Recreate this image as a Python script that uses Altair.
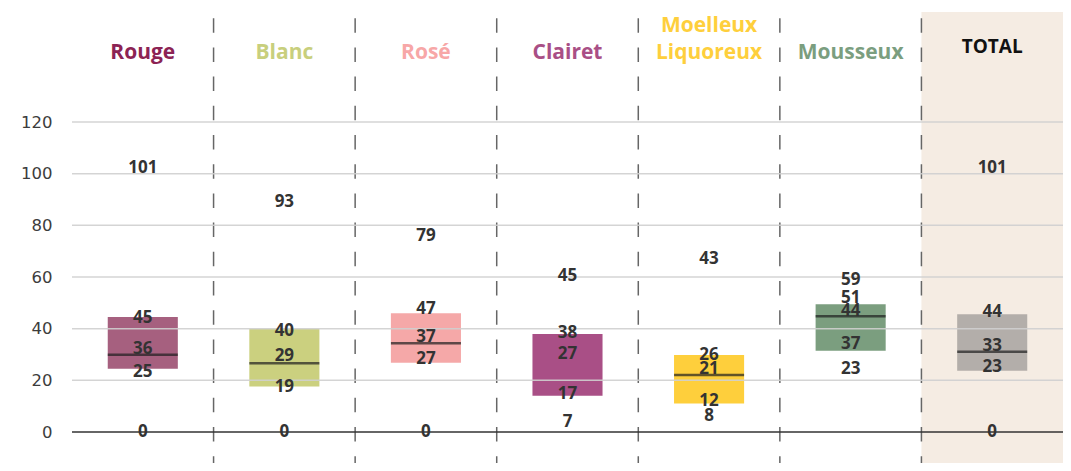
import altair as alt
import pandas as pd

# ---- data ----
categories = ["Rouge", "Blanc", "Rosé", "Clairet", "Moelleux", "Mousseux", "TOTAL"]
headers = ["Rouge", "Blanc", "Rosé", "Clairet", "Liquoreux", "Mousseux", "TOTAL"]
headers_top = ["", "", "", "", "Moelleux", "", ""]

box_low = [24.5, 17.6, 26.8, 14.0, 11.0, 31.5, 23.7]
box_high = [44.5, 40.0, 46.0, 37.9, 29.8, 49.5, 45.6]
mid_line = [29.9, 26.6, 34.4, None, 22.1, 44.8, 31.1]

# displayed numbers
v_max = [101, 93, 79, 45, 43, 59, 101]
v_q3 = [45, 40, 47, 38, 26, 51, 44]
v_med = [36, 29, 37, 27, 21, 44, 33]
v_q1 = [25, 19, 27, 17, 12, 37, 23]
v_min = [0, 0, 0, 7, 8, 23, 0]

# heights (axis units) where each number sits in the picture
at_max = [102.2, 89.1, 75.9, 60.4, 66.8, 59.0, 102.2]
at_q3 = [44.1, 39.2, 47.5, 38.3, 29.8, 52.0, 46.4]
at_med = [32.0, 29.4, 36.8, 30.2, 24.4, 46.7, 33.3]
at_q1 = [23.3, 17.5, 28.4, 14.7, 12.1, 34.0, 25.0]
at_min = [0.0, 0.0, 0.0, 3.9, 6.2, 24.2, 0.0]

y_ticks = [0, 20, 40, 60, 80, 100, 120]
Y_TOP, Y_BOTTOM = 162.6, -12.0
HEADER_AT, HEADER_TOP_AT, TOTAL_HEADER_AT = 142.8, 153.3, 146.7

box_colors = ["#a6607f", "#cbd07f", "#f5a8a8", "#a94f86", "#fecf3c", "#7b9e7f", "#b3aeaa"]
header_colors = ["#8c2354", "#c8cf7d", "#f7a7a7", "#a94f86", "#fecf3c", "#7b9e7f", "#111111"]

# ---- tables ----
boxes = pd.DataFrame({"cat": categories, "low": box_low, "high": box_high,
                      "mid": mid_line, "header": headers, "header_top": headers_top})
rows = []
for vals, ats in [(v_max, at_max), (v_q3, at_q3), (v_med, at_med), (v_q1, at_q1), (v_min, at_min)]:
    for c, v, a in zip(categories, vals, ats):
        rows.append({"cat": c, "val": v, "at": a})
labels = pd.DataFrame(rows)
grid = pd.DataFrame({"tick": y_ticks[1:]})

xs = alt.Scale(domain=categories, paddingInner=0, paddingOuter=0)
ys = alt.Scale(domain=[Y_BOTTOM, Y_TOP], nice=False, zero=False)
X = alt.X("cat:N", scale=xs, axis=None)


def header_color():
    return alt.Color("cat:N", scale=alt.Scale(domain=categories, range=header_colors), legend=None)


base = alt.Chart(boxes)

background = base.transform_filter(alt.datum.cat == "TOTAL").mark_bar(
    color="#f5ece3"
).encode(x=X, y=alt.datum(Y_TOP, scale=ys), y2=alt.datum(Y_BOTTOM))

separators = base.transform_filter(alt.datum.cat != "Rouge").mark_rule(
    color="#666666", strokeWidth=1.5, strokeDash=[14.5, 14.7], strokeDashOffset=23
).encode(
    x=alt.X("cat:N", scale=xs, axis=None, bandPosition=0),
    y=alt.datum(Y_TOP), y2=alt.datum(Y_BOTTOM),
)

bars = base.mark_bar(width=alt.RelativeBandSize(0.495)).encode(
    x=X,
    y=alt.Y("low:Q", scale=ys, title=None,
            axis=alt.Axis(values=y_ticks, grid=False,
                          domain=False, ticks=False, labelPadding=20, labelFontSize=16.5,
                          labelFont="DejaVu Sans", labelFontWeight="normal", labelColor="#3c3c3c")),
    y2="high:Q",
    color=alt.Color("cat:N", scale=alt.Scale(domain=categories, range=box_colors), legend=None),
)

gridlines = alt.Chart(grid).mark_rule(color="#cfcfcf", strokeWidth=1.5, opacity=0.9).encode(
    y=alt.Y("tick:Q", scale=ys)
)

medians = base.transform_filter("isValid(datum.mid)").mark_tick(
    color="#1e1e1e", thickness=2.5, size=70
).encode(x=X, y=alt.Y("mid:Q", scale=ys))

zero = base.transform_filter(alt.datum.cat == "Rouge").mark_rule(
    color="#333333", strokeWidth=1.5
).encode(y=alt.datum(0))

numbers = alt.Chart(labels).mark_text(
    font="Open Sans", fontWeight="bold", fontSize=17, color="#333333", baseline="middle"
).encode(x=X, y=alt.Y("at:Q", scale=ys), text=alt.Text("val:Q"))

head = base.transform_filter(alt.datum.cat != "TOTAL").mark_text(
    font="Open Sans", fontWeight="bold", fontSize=21, baseline="bottom"
).encode(x=X, y=alt.datum(HEADER_AT), text="header:N", color=header_color())

head_top = base.transform_filter(alt.datum.header_top != "").mark_text(
    font="Open Sans", fontWeight="bold", fontSize=21, baseline="bottom"
).encode(x=X, y=alt.datum(HEADER_TOP_AT), text="header_top:N", color=header_color())

total_head = base.transform_filter(alt.datum.cat == "TOTAL").mark_text(
    font="Open Sans", fontWeight="bold", fontSize=19, baseline="alphabetic", color="#111111"
).encode(x=X, y=alt.datum(TOTAL_HEADER_AT), text="header:N")

chart = alt.layer(
    background, separators, bars, gridlines, medians, zero, numbers, head, head_top, total_head
).resolve_scale(color="independent").properties(
    width=991, height=451,
    padding={"left": 64, "top": 4, "right": 0, "bottom": 0},
    autosize="none",
).configure_view(stroke=None)

chart.save("out.html", embed_options={"renderer": "svg", "actions": False})
